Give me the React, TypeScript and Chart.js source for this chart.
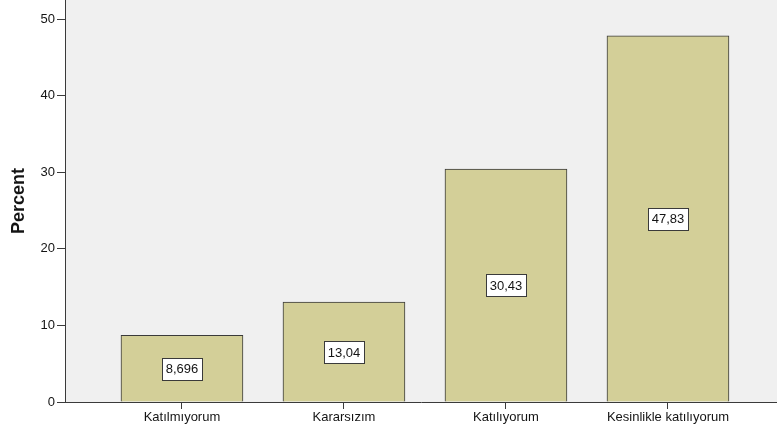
import { useEffect, useRef } from 'react';
import { Chart, registerables } from 'chart.js';

Chart.register(...registerables);

const categories = ['Katılmıyorum', 'Kararsızım', 'Katılıyorum', 'Kesinlikle katılıyorum'];
const percents = [8.696, 13.04, 30.43, 47.83];
const valueLabels = ['8,696', '13,04', '30,43', '47,83'];
const yTicks = [0, 10, 20, 30, 40, 50];

const FONT = '"Liberation Sans", Arial, sans-serif';
const TEXT = '#141414';
const LINE = '#3a3a3a';

// grey plot panel like SPSS output
const panelBg = {
  id: 'panelBg',
  beforeDraw(chart: Chart) {
    const { ctx, chartArea: a } = chart;
    ctx.save();
    ctx.fillStyle = '#f0f0f0';
    ctx.fillRect(a.left, a.top, a.right - a.left, a.bottom - a.top);
    ctx.restore();
  },
};

// boxed value labels in the middle of each bar
const boxLabels = {
  id: 'boxLabels',
  afterDatasetsDraw(chart: Chart) {
    const { ctx } = chart;
    const x = chart.scales.x;
    const y = chart.scales.y;
    ctx.save();
    ctx.font = `13px ${FONT}`;
    ctx.textAlign = 'center';
    ctx.textBaseline = 'middle';
    percents.forEach((v, i) => {
      const cx = x.getPixelForValue(i);
      const cy = y.getPixelForValue(v / 2);
      const w = Math.round(ctx.measureText(valueLabels[i]).width + 7);
      const h = 22;
      const l = Math.round(cx - w / 2) + 0.5;
      const t = Math.round(cy - h / 2) + 0.5;
      ctx.fillStyle = '#ffffff';
      ctx.fillRect(l, t, w, h);
      ctx.strokeStyle = LINE;
      ctx.lineWidth = 1;
      ctx.strokeRect(l, t, w, h);
      ctx.fillStyle = TEXT;
      ctx.fillText(valueLabels[i], cx, cy + 1);
    });
    ctx.restore();
  },
};

export default function App() {
  const canvasRef = useRef<HTMLCanvasElement>(null);

  useEffect(() => {
    const canvas = canvasRef.current;
    if (!canvas) return;
    const chart = new Chart(canvas, {
      type: 'bar',
      data: {
        datasets: [
          {
            label: 'Percent',
            data: percents.map((v, i) => ({ x: i, y: v })),
            backgroundColor: '#d3cf98',
            borderColor: LINE,
            borderWidth: 1,
            barThickness: 122,
          },
        ],
      },
      options: {
        animation: false,
        responsive: false,
        maintainAspectRatio: false,
        layout: { padding: 0 },
        plugins: { legend: { display: false }, tooltip: { enabled: false } },
        scales: {
          x: {
            type: 'linear',
            offset: false,
            min: -0.722,
            max: 3.673,
            afterBuildTicks: (s) => {
              s.ticks = categories.map((_, i) => ({ value: i }));
            },
            afterFit: (s) => {
              s.height = 32;
              s.paddingLeft = 0;
              s.paddingRight = 0;
            },
            grid: {
              offset: false,
              drawOnChartArea: false,
              drawTicks: true,
              tickLength: 7,
              color: LINE,
            },
            border: { color: LINE, width: 1 },
            ticks: {
              autoSkip: false,
              maxRotation: 0,
              padding: 1,
              color: TEXT,
              font: { family: FONT, size: 13 },
              callback: (v) => categories[Number(v)] ?? '',
            },
          },
          y: {
            min: 0,
            max: 52.5,
            afterBuildTicks: (s) => {
              s.ticks = yTicks.map((v) => ({ value: v }));
            },
            afterFit: (s) => {
              s.width = 65;
              s.paddingTop = 0;
              s.paddingBottom = 0;
            },
            grid: {
              drawOnChartArea: false,
              drawTicks: true,
              tickLength: 8,
              color: LINE,
            },
            border: { color: LINE, width: 1 },
            ticks: {
              padding: 2,
              color: TEXT,
              font: { family: FONT, size: 13 },
            },
            title: {
              display: true,
              text: 'Percent',
              color: TEXT,
              font: { family: FONT, size: 18, weight: 'bold' },
              padding: { top: 8, bottom: 0 },
            },
          },
        },
      },
      plugins: [panelBg, boxLabels],
    });
    return () => chart.destroy();
  }, []);

  return (
    <div
      style={{
        position: 'absolute',
        left: 0,
        top: 0,
        width: 777,
        height: 434,
        background: '#ffffff',
        overflow: 'hidden',
      }}
    >
      <canvas ref={canvasRef} width={777} height={434} style={{ width: 777, height: 434 }} />
    </div>
  );
}
